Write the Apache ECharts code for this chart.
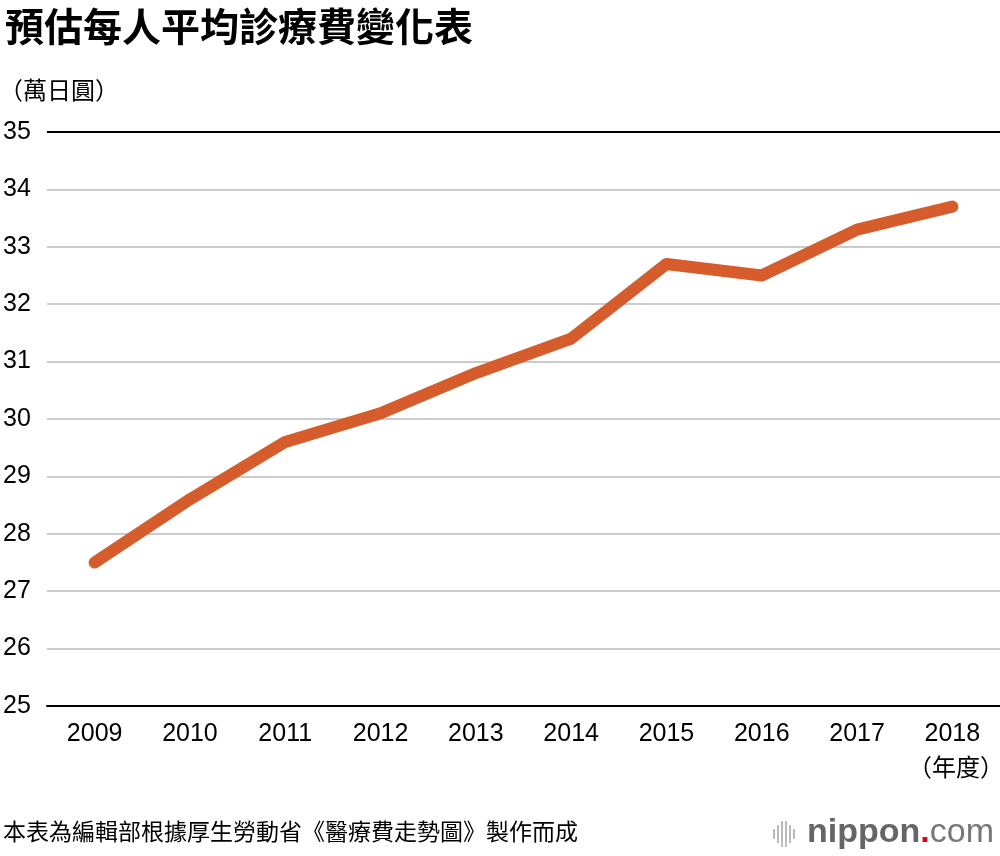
<!DOCTYPE html>
<html>
<head>
<meta charset="utf-8">
<script src="https://cdn.jsdelivr.net/npm/echarts@6/dist/echarts.min.js"></script>
<style>
html,body{margin:0;padding:0;background:#fff;}
#c{width:1000px;height:856px;}
</style>
</head>
<body>
<div id="c"></div>
<script>
const categories = ['2009','2010','2011','2012','2013','2014','2015','2016','2017','2018'];
const costValues = [27.5, 28.6, 29.6, 30.1, 30.8, 31.4, 32.7, 32.5, 33.3, 33.7];
const yMin = 25, yMax = 35, yStep = 1;

const CJK = '"Noto Sans CJK TC", "Noto Sans CJK SC", sans-serif';
const LAT = '"Liberation Sans", Arial, "Noto Sans CJK TC", sans-serif';

const splitColors = [];
for (let v = yMin; v <= yMax; v += yStep) splitColors.push(v === yMin || v === yMax ? '#000' : '#cccccc');

const chart = echarts.init(document.getElementById('c'), null, {renderer: 'canvas'});
chart.setOption({
  backgroundColor: '#fff',
  animation: false,
  title: [{
    text: '預估每人平均診療費變化表',
    left: 0, top: 2,
    textStyle: {fontFamily: CJK, fontSize: 39, fontWeight: 'bold', color: '#000'}
  }, {
    text: '（萬日圓）',
    left: -6, top: 73,
    textStyle: {fontFamily: CJK, fontSize: 24, fontWeight: 'normal', color: '#000'}
  }],
  graphic: [{
    type: 'text', right: -4, top: 755,
    style: {text: '（年度）', font: '24px ' + CJK, fill: '#000'}
  }, {
    type: 'text', left: 3, top: 820,
    style: {text: '本表為編輯部根據厚生勞動省《醫療費走勢圖》製作而成', font: '23px ' + CJK, fill: '#000'}
  }, {
    type: 'group', left: 773, top: 821,
    children: [
      {type: 'rect', shape: {x: 0, y: 9, width: 2, height: 10}, style: {fill: '#bbb'}},
      {type: 'rect', shape: {x: 4, y: 5, width: 2, height: 18}, style: {fill: '#bbb'}},
      {type: 'rect', shape: {x: 8, y: 1, width: 2, height: 26}, style: {fill: '#bbb'}},
      {type: 'rect', shape: {x: 12, y: 1, width: 2, height: 26}, style: {fill: '#bbb'}},
      {type: 'rect', shape: {x: 16, y: 5, width: 2, height: 18}, style: {fill: '#bbb'}},
      {type: 'rect', shape: {x: 20, y: 9, width: 2, height: 10}, style: {fill: '#bbb'}}
    ]
  }, {
    type: 'text', left: 807, top: 816,
    style: {
      text: '{a|nippon}{b|.}{c|com}',
      rich: {
        a: {fontFamily: LAT, fontSize: 34, fontWeight: 'bold', fill: '#666', color: '#666'},
        b: {fontFamily: LAT, fontSize: 34, fontWeight: 'bold', fill: '#e60012', color: '#e60012'},
        c: {fontFamily: LAT, fontSize: 34, fontWeight: 'normal', fill: '#777', color: '#777'}
      }
    }
  }],
  grid: {left: 47, right: 0, top: 132, bottom: 150, containLabel: false},
  xAxis: {
    type: 'category',
    data: categories,
    boundaryGap: true,
    axisLine: {show: true, lineStyle: {color: '#000', width: 2}},
    axisTick: {show: false},
    axisLabel: {fontFamily: LAT, fontSize: 25, color: '#000', margin: 16}
  },
  yAxis: {
    type: 'value',
    min: yMin, max: yMax, interval: yStep,
    axisLine: {show: false},
    axisTick: {show: false},
    axisLabel: {fontFamily: LAT, fontSize: 25, color: '#000', align: 'left', margin: 44},
    splitLine: {show: true, lineStyle: {color: splitColors, width: 2}}
  },
  series: [{
    type: 'line',
    data: costValues,
    symbol: 'none',
    lineStyle: {color: '#d65c2b', width: 12, cap: 'round', join: 'round'},
    z: 5
  }]
});
</script>
</body>
</html>
